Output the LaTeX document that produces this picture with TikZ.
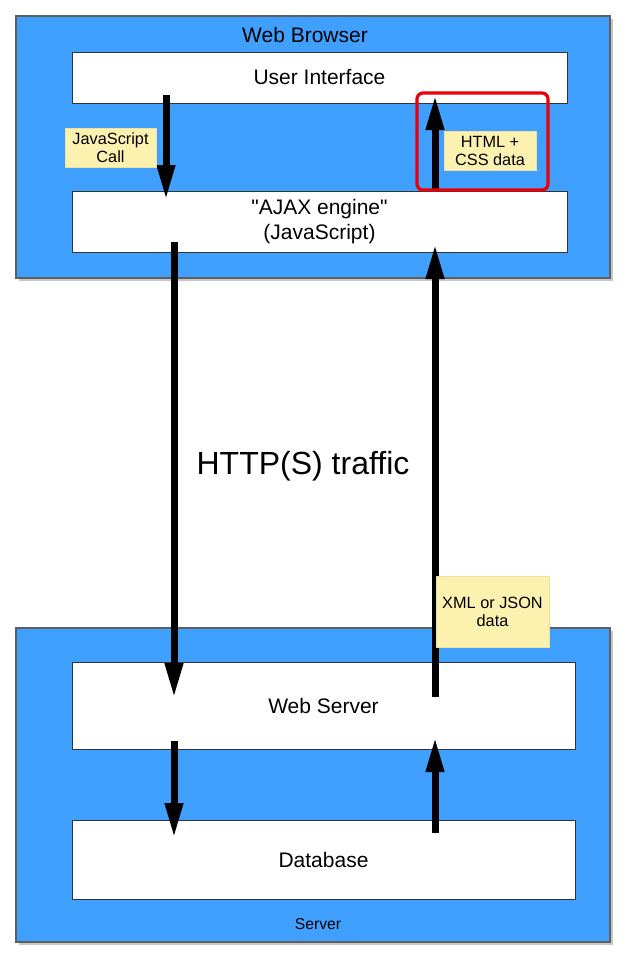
\documentclass[tikz,border=0pt]{standalone}
\usepackage{fontspec}
\setmainfont{Liberation Sans}
\usetikzlibrary{arrows.meta,shadows}
\definecolor{tierblue}{RGB}{64,160,255}
\definecolor{notefill}{RGB}{253,241,176}
\definecolor{framegray}{RGB}{95,95,95}
\definecolor{alertred}{RGB}{235,0,10}
\begin{document}
\begin{tikzpicture}[x=1pt,y=-1pt,
  tier/.style={draw=framegray, line width=1.2pt, fill=tierblue, inner sep=0pt,
    drop shadow={shadow xshift=3pt, shadow yshift=-3pt, opacity=0.45, fill=gray}},
  layer/.style={draw=black!80, line width=0.9pt, fill=white, inner sep=0pt,
    font=\fontsize{21}{24.5}\selectfont, align=center},
  note/.style={fill=notefill, draw=notefill!85!gray, line width=0.5pt, inner sep=0pt,
    font=\fontsize{16.3}{18}\selectfont, align=center},
  bigarrow/.style={line width=7pt, -{Triangle[length=35pt,width=17pt]}},
  highlight/.style={draw=alertred, line width=3.2pt, rounded corners=6pt}
]
\useasboundingbox (0,0) rectangle (627,959);

% Client and server tiers
\node[tier, minimum width=594pt, minimum height=262pt] (browser) at (313,147) {};
\node[font=\fontsize{21}{24}\selectfont] (browsertitle) at (305,35) {Web Browser};
\node[tier, minimum width=594pt, minimum height=314pt] (server) at (313,785) {};
\node[font=\fontsize{15.7}{18}\selectfont] (servertitle) at (318,924) {Server};

% Layers inside each tier
\node[layer, minimum width=495pt, minimum height=51pt] (ui) at (319.5,77.5) {User Interface};
\node[layer, minimum width=495pt, minimum height=61pt] (ajax) at (319.5,221.5)
  {\textquotedbl AJAX engine\textquotedbl\\(JavaScript)};
\node[layer, minimum width=503pt, minimum height=87pt] (web) at (323.5,705.5) {Web Server};
\node[layer, minimum width=503pt, minimum height=79pt] (db) at (323.5,859.5) {Database};

% Arrow end points
\coordinate (uiout)   at (166,95);
\coordinate (ajaxin)  at (166,200);
\coordinate (ajaxup)  at (435,191);
\coordinate (uiin)    at (435,95);
\coordinate (ajaxout) at (174,242);
\coordinate (webin)   at (174,698);
\coordinate (webout)  at (435,697);
\coordinate (ajaxret) at (435,244);
\coordinate (webdown) at (174,741);
\coordinate (dbin)    at (174,838);
\coordinate (dbout)   at (435,833);
\coordinate (webret)  at (435,737);

% Data flow
\draw[bigarrow] (uiout) -- (ajaxin);
\draw[bigarrow] (ajaxup) -- (uiin);
\draw[bigarrow] (ajaxout) -- (webin);
\draw[bigarrow] (webout) -- (ajaxret);
\draw[bigarrow] (webdown) -- (dbin);
\draw[bigarrow] (dbout) -- (webret);

\node[font=\fontsize{32}{37}\selectfont] (traffic) at (303,466) {HTTP(S) traffic};

% Annotations
\node[note, minimum width=91pt, minimum height=39pt] (jscall) at (110.5,147.5) {JavaScript\\Call};
\node[note, minimum width=92pt, minimum height=39pt] (htmlcss) at (490,150.5) {HTML +\\CSS data};
\node[note, minimum width=113pt, minimum height=71pt] (xmljson) at (492.5,611.5) {XML or JSON\\data};

\draw[highlight] (417,93) rectangle (548,190);
\end{tikzpicture}
\end{document}
